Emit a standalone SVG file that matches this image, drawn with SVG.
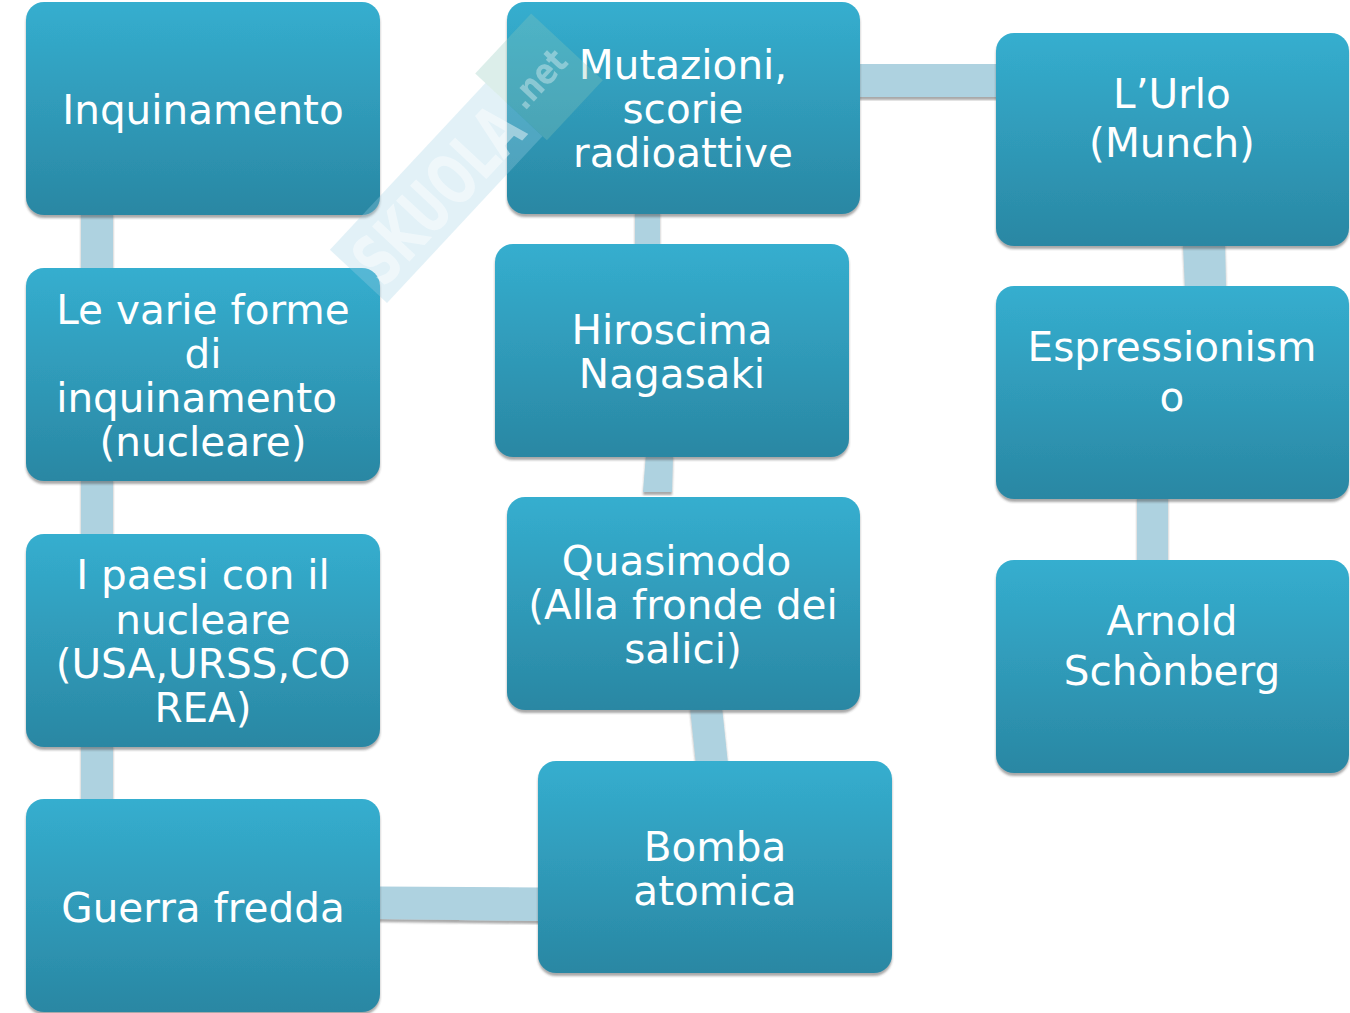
<svg xmlns="http://www.w3.org/2000/svg" width="1350" height="1013" viewBox="0 0 1350 1013">
<defs>
<linearGradient id="g" x1="0" y1="0" x2="0" y2="1">
<stop offset="0" stop-color="#35aecf"/>
<stop offset="1" stop-color="#2a87a3"/>
</linearGradient>
<filter id="sh" x="-5%" y="-5%" width="110%" height="115%">
<feDropShadow dx="0" dy="3" stdDeviation="1.2" flood-color="#404040" flood-opacity="0.45"/>
</filter>
</defs>
<style>
.n{fill:url(#g);filter:url(#sh)}
.c{fill:#aed2e0;filter:url(#sh)}
.t{font-family:"DejaVu Sans",Verdana,sans-serif;font-size:40.5px;fill:#ffffff;text-anchor:middle}
.wt{font-family:"DejaVu Sans",sans-serif;font-weight:bold;fill:#ffffff}
</style>
<rect width="1350" height="1013" fill="#ffffff"/>
<g id="connectors">
<rect class="c" x="81" y="212" width="32" height="58"/>
<rect class="c" x="81" y="478" width="32" height="58"/>
<rect class="c" x="81" y="744" width="32" height="58"/>
<polygon class="c" points="378,886.5 540,887.5 540,921 378,919"/>
<polygon class="c" points="690,707 722,707 728,764 696,764"/>
<polygon class="c" points="646,454 673,454 672,492 643,492"/>
<rect class="c" x="635" y="211" width="25" height="36"/>
<rect class="c" x="857" y="64" width="142" height="33"/>
<polygon class="c" points="1183,243 1225,243 1226,289 1185,289"/>
<rect class="c" x="1137" y="496" width="31" height="67"/>
</g>
<g id="n1"><rect class="n" x="26" y="2" width="354" height="213" rx="18"/>
<text class="t" x="203" y="124">Inquinamento</text></g>
<g id="n2"><rect class="n" x="26" y="268" width="354" height="213" rx="18"/>
<text class="t" xml:space="preserve"><tspan x="203" y="324">Le varie forme</tspan><tspan x="203" y="368">di</tspan><tspan x="203" y="412">inquinamento </tspan><tspan x="203" y="456">(nucleare)</tspan></text></g>
<g id="n3"><rect class="n" x="26" y="534" width="354" height="213" rx="18"/>
<text class="t"><tspan x="203" y="589">I paesi con il</tspan><tspan x="203" y="634">nucleare</tspan><tspan x="203" y="678">(USA,URSS,CO</tspan><tspan x="203" y="722">REA)</tspan></text></g>
<g id="n4"><rect class="n" x="26" y="799" width="354" height="213" rx="18"/>
<text class="t" x="203" y="922">Guerra fredda</text></g>
<g id="n5"><rect class="n" x="507" y="2" width="353" height="212" rx="18"/>
<text class="t"><tspan x="683" y="79">Mutazioni,</tspan><tspan x="683" y="123">scorie</tspan><tspan x="683" y="167">radioattive</tspan></text></g>
<g id="n6"><rect class="n" x="495" y="244" width="354" height="213" rx="18"/>
<text class="t"><tspan x="672" y="344">Hiroscima</tspan><tspan x="672" y="388">Nagasaki</tspan></text></g>
<g id="n7"><rect class="n" x="507" y="497" width="353" height="213" rx="18"/>
<text class="t" xml:space="preserve"><tspan x="683" y="575">Quasimodo </tspan><tspan x="683" y="619">(Alla fronde dei</tspan><tspan x="683" y="663">salici)</tspan></text></g>
<g id="n8"><rect class="n" x="538" y="761" width="354" height="212" rx="18"/>
<text class="t"><tspan x="715" y="861">Bomba</tspan><tspan x="715" y="905">atomica</tspan></text></g>
<g id="n9"><rect class="n" x="996" y="33" width="353" height="213" rx="18"/>
<text class="t"><tspan x="1172" y="108">L’Urlo</tspan><tspan x="1172" y="157">(Munch)</tspan></text></g>
<g id="n10"><rect class="n" x="996" y="286" width="353" height="213" rx="18"/>
<text class="t"><tspan x="1172" y="361">Espressionism</tspan><tspan x="1172" y="411">o</tspan></text></g>
<g id="n11"><rect class="n" x="996" y="560" width="353" height="213" rx="18"/>
<text class="t"><tspan x="1172" y="635">Arnold</tspan><tspan x="1172" y="685">Schònberg</tspan></text></g>
<g id="watermark" transform="translate(387,303) rotate(-47)">
<rect x="0" y="-78" width="228" height="78" fill="#9fd0e6" opacity="0.3"/>
<rect x="228" y="-92" width="82" height="98" fill="#8cc6b8" opacity="0.3"/>
<text class="wt" x="8" y="-12" font-size="70" textLength="212" lengthAdjust="spacingAndGlyphs" opacity="0.45">SKUOLA</text>
<text class="wt" x="234" y="-30" font-size="36" textLength="66" lengthAdjust="spacingAndGlyphs" opacity="0.35">.net</text>
</g>
</svg>
